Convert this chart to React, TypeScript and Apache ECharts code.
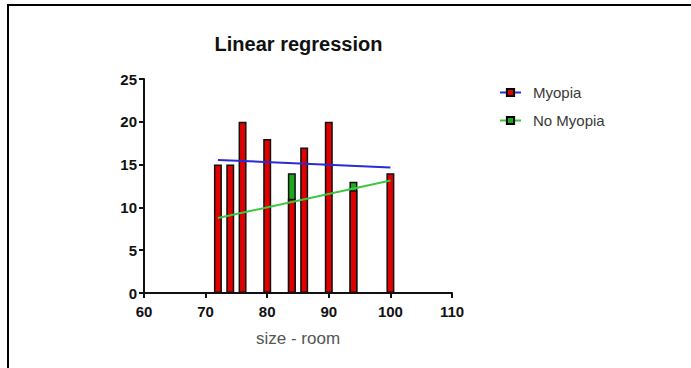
import React, { useEffect, useRef } from 'react';
import * as echarts from 'echarts';

const titleText = 'Linear regression';
const xAxisName = 'size - room';
const seriesNames = ['Myopia', 'No Myopia'];
const xMin = 60;
const xMax = 110;
const xStep = 10;
const yMin = 0;
const yMax = 25;
const yStep = 5;

const myopiaX = [72, 74, 76, 80, 84, 86, 90, 94, 100];
const myopiaY = [15, 15, 20, 18, 11, 17, 20, 12, 14];
const noMyopiaX = [84, 94];
const noMyopiaY = [14, 13];

const myopiaFitX = [72, 100];
const myopiaFitY = [15.55, 14.65];
const noMyopiaFitX = [72, 100];
const noMyopiaFitY = [8.75, 13.15];

const zip = (xs: number[], ys: number[]) => xs.map((x, i) => [x, ys[i]]);

export default function App() {
  const ref = useRef<HTMLDivElement>(null);
  useEffect(() => {
    if (!ref.current) return;
    const chart = echarts.init(ref.current, null, { renderer: 'svg' });
    const font = '"Liberation Sans", Arial, sans-serif';
    chart.setOption({
      animation: false,
      backgroundColor: '#ffffff',
      textStyle: { fontFamily: font },
      grid: { left: 144, top: 79, width: 308, height: 214, containLabel: false },
      graphic: [
        { type: 'line', shape: { x1: 7, y1: 5, x2: 691, y2: 5 }, style: { stroke: '#000', lineWidth: 2 } },
        { type: 'line', shape: { x1: 8, y1: 4, x2: 8, y2: 368 }, style: { stroke: '#000', lineWidth: 2 } },
        {
          type: 'text',
          x: 298.5,
          y: 44,
          style: {
            text: titleText,
            fill: '#111',
            font: `bold 20px ${font}`,
            textAlign: 'center',
            textVerticalAlign: 'middle',
          },
        },
      ],
      legend: {
        data: seriesNames,
        orient: 'vertical',
        left: 494,
        top: 80,
        itemWidth: 21,
        itemHeight: 9,
        itemGap: 13,
        textStyle: { fontSize: 15, color: '#3a3a3a', fontFamily: font, padding: [0, 0, 0, 7] },
      },
      xAxis: {
        type: 'value',
        min: xMin,
        max: xMax,
        interval: xStep,
        name: xAxisName,
        nameLocation: 'middle',
        nameGap: 37,
        nameTextStyle: { fontSize: 17, color: '#555', fontFamily: font },
        axisLine: { onZero: false, lineStyle: { color: '#111', width: 2 } },
        axisTick: { show: true, length: 5, lineStyle: { color: '#111', width: 2 } },
        axisLabel: { fontSize: 15, fontWeight: 'bold', color: '#111', margin: 11, fontFamily: font },
        splitLine: { show: false },
      },
      yAxis: {
        type: 'value',
        min: yMin,
        max: yMax,
        interval: yStep,
        axisLine: { show: true, onZero: false, lineStyle: { color: '#111', width: 2 } },
        axisTick: { show: true, length: 5, lineStyle: { color: '#111', width: 2 } },
        axisLabel: { fontSize: 15, fontWeight: 'bold', color: '#111', margin: 7, fontFamily: font },
        splitLine: { show: false },
      },
      series: [
        {
          name: seriesNames[0],
          type: 'line',
          data: zip(myopiaFitX, myopiaFitY),
          symbol: 'rect',
          showSymbol: false,
          z: 5,
          lineStyle: { color: '#2a2ad8', width: 2 },
          itemStyle: { color: '#e00000', borderColor: '#000', borderWidth: 1 },
        },
        {
          name: seriesNames[1],
          type: 'line',
          data: zip(noMyopiaFitX, noMyopiaFitY),
          symbol: 'rect',
          showSymbol: false,
          z: 5,
          lineStyle: { color: '#3cc83c', width: 2 },
          itemStyle: { color: '#1ea81e', borderColor: '#000', borderWidth: 1 },
        },
        {
          name: 'No Myopia bars',
          type: 'bar',
          data: zip(noMyopiaX, noMyopiaY),
          barWidth: 8,
          barGap: '-100%',
          z: 2,
          itemStyle: { color: '#1ea81e', borderColor: '#111', borderWidth: 1.5 },
        },
        {
          name: 'Myopia bars',
          type: 'bar',
          data: zip(myopiaX, myopiaY),
          barWidth: 8,
          barGap: '-100%',
          z: 3,
          itemStyle: { color: '#e00000', borderColor: '#111', borderWidth: 1.5 },
        },
      ],
    });
    return () => chart.dispose();
  }, []);
  return (
    <div
      ref={ref}
      style={{ position: 'absolute', left: 0, top: 0, width: 691, height: 368, background: '#fff' }}
    />
  );
}
